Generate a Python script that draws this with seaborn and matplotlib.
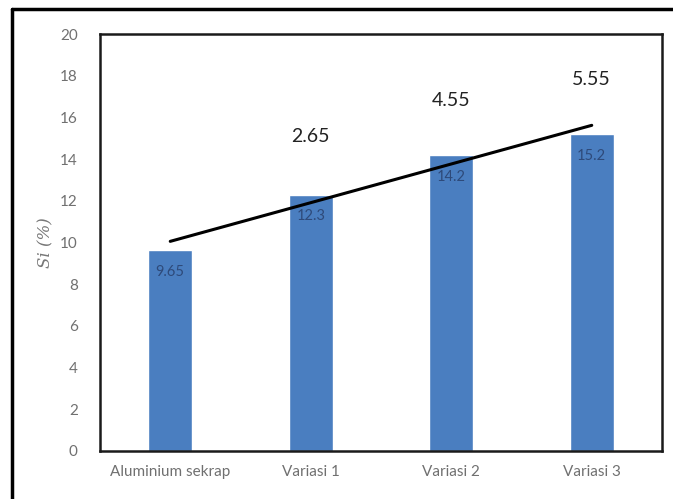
import matplotlib
matplotlib.use("Agg")
import matplotlib.pyplot as plt
import seaborn as sns
import numpy as np
import pandas as pd
from matplotlib.lines import Line2D

categories = ["Aluminium sekrap", "Variasi 1", "Variasi 2", "Variasi 3"]
si_values = [9.65, 12.3, 14.2, 15.2]
increase_labels = ["", "2.65", "4.55", "5.55"]
increase_label_y = [None, 15.1, 16.8, 17.8]
yticks = [0, 2, 4, 6, 8, 10, 12, 14, 16, 18, 20]

sns.set_theme(style="white")
plt.rcParams['font.family'] = ['Lato', 'DejaVu Sans']

df = pd.DataFrame({"cat": categories, "si": si_values})

fig = plt.figure(figsize=(6.73, 4.99), dpi=100)
ax = fig.add_axes([100/673, 1 - 451/499, (662-100)/673, (451-34)/499])

sns.barplot(data=df, x="cat", y="si", color="#4A7EC0", saturation=1,
            width=0.31, ax=ax)

# linear trend line
x = np.arange(len(si_values))
slope, intercept = np.polyfit(x, si_values, 1)
ax.plot([x[0], x[-1]], [intercept + slope*x[0], intercept + slope*x[-1]],
        color="black", lw=2.2, zorder=5)

# data labels inside bars
for i, v in enumerate(si_values):
    ax.text(i, v - 1.05, f"{v:g}", ha="center", va="center",
            fontsize=10.5, color="#2E4A7A", zorder=6)

# increase labels
for i, (lab, yy) in enumerate(zip(increase_labels, increase_label_y)):
    if lab:
        ax.text(i, yy, lab, ha="center", va="center", fontsize=14,
                color="#222222", zorder=6)

ax.set_ylim(0, 20)
ax.set_xlim(-0.5, 3.5)
ax.set_yticks(yticks)
ax.set_yticklabels([str(t) for t in yticks])
ax.tick_params(axis="both", length=0, labelsize=11, colors="#707070")
ax.tick_params(axis="y", pad=16)
ax.tick_params(axis="x", pad=10)
ax.set_xlabel("")
ax.set_ylabel("Si (%)", family=["DejaVu Serif"], style="italic",
              fontsize=12, color="#777777", labelpad=4)
for s in ax.spines.values():
    s.set_visible(True)
    s.set_color("#1a1a1a")
    s.set_linewidth(1.8)
ax.grid(False)

# outer frame (top and left visible)
fig.add_artist(Line2D([12/673, 1.0], [1 - 9/499, 1 - 9/499],
                      transform=fig.transFigure, color="black", lw=2.5))
fig.add_artist(Line2D([12/673, 12/673], [0, 1 - 9/499],
                      transform=fig.transFigure, color="black", lw=2.5))

fig.savefig("out.png", dpi=100)
